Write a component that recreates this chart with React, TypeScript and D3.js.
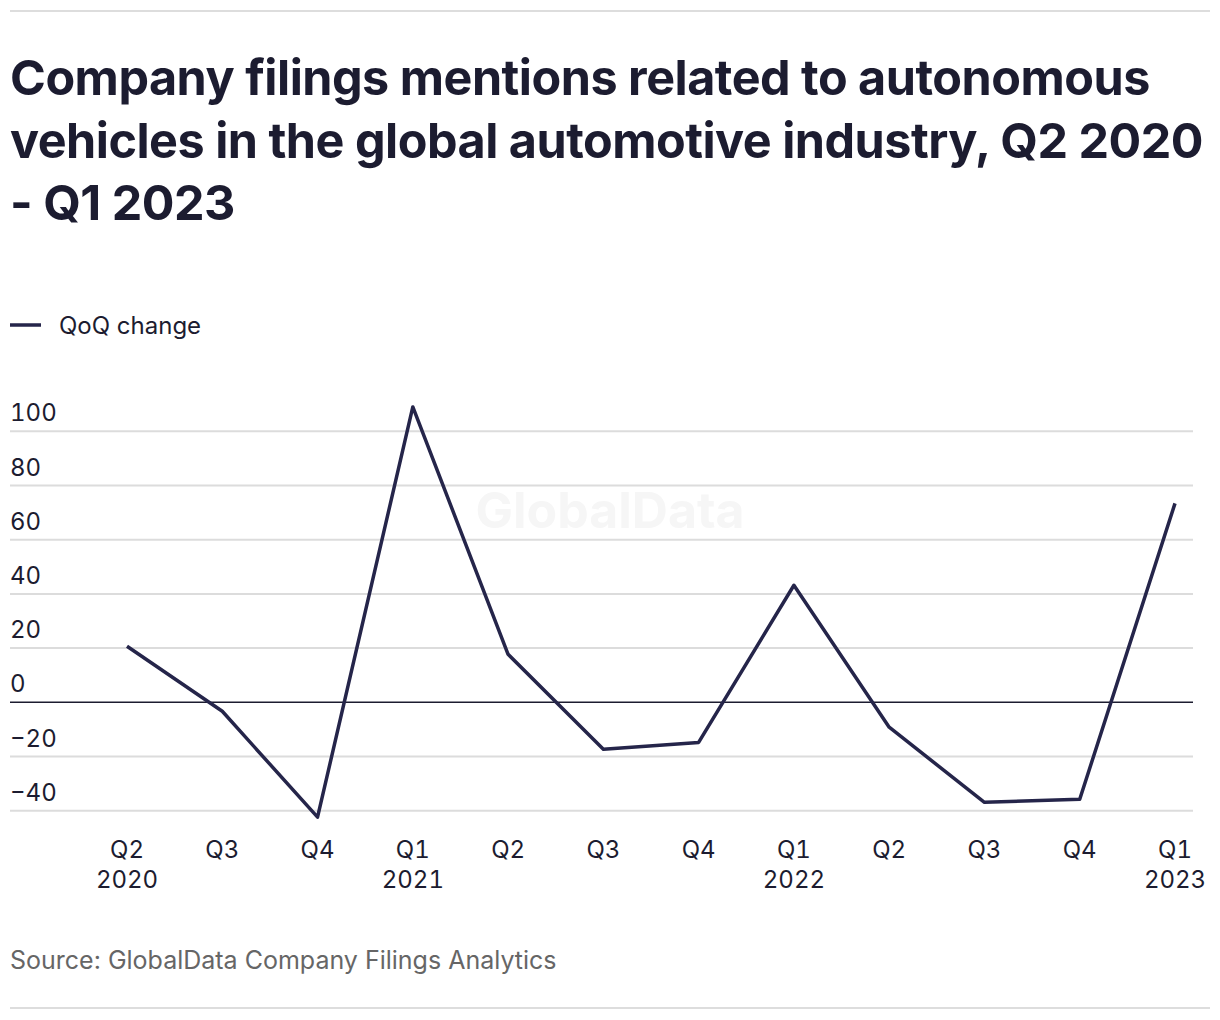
import * as d3 from "d3";
import { useEffect, useRef } from "react";

// quarters on the x axis, with the year shown under the first quarter of each year
const quarters = ["Q2 2020", "Q3 2020", "Q4 2020", "Q1 2021", "Q2 2021", "Q3 2021", "Q4 2021", "Q1 2022", "Q2 2022", "Q3 2022", "Q4 2022", "Q1 2023"];
const quarterLabels = ["Q2", "Q3", "Q4", "Q1", "Q2", "Q3", "Q4", "Q1", "Q2", "Q3", "Q4", "Q1"];
const yearLabels = ["2020", "", "", "2021", "", "", "", "2022", "", "", "", "2023"];

// QoQ change (%)
const qoqChange = [20.7, -3.3, -42.4, 109, 17.7, -17.3, -14.8, 43.2, -9.2, -36.9, -35.8, 73.4];

const yTicks = [-40, -20, 0, 20, 40, 60, 80, 100];

const titleLines = [
  "Company filings mentions related to autonomous",
  "vehicles in the global automotive industry, Q2 2020",
  "- Q1 2023",
];

const W = 1220;
const H = 1020;
const FONT = "Inter, 'Noto Sans', sans-serif";
const INK = "#1c1c30";
const LINE = "#25254a";

const App = () => {
  const ref = useRef(null);

  useEffect(() => {
    if (!ref.current) return;
    const svg = d3.select(ref.current);
    svg.selectAll("*").remove();

    const x = d3.scalePoint().domain(quarters).range([127, 1175]);
    const y = d3.scaleLinear().domain([-40, 100]).range([810.7, 431.3]);

    // top and bottom rules
    svg.append("line").attr("x1", 10).attr("x2", 1210).attr("y1", 11).attr("y2", 11)
      .attr("stroke", "#dddddd").attr("stroke-width", 2);
    svg.append("line").attr("x1", 10).attr("x2", 1210).attr("y1", 1008).attr("y2", 1008)
      .attr("stroke", "#dddddd").attr("stroke-width", 2);

    // title
    svg.append("g").selectAll("text").data(titleLines).join("text")
      .attr("x", 10)
      .attr("y", (d, i) => 95 + i * 62.5)
      .attr("font-family", FONT)
      .attr("font-weight", 700)
      .attr("font-size", 48.5)
      .attr("letter-spacing", -0.5)
      .attr("fill", INK)
      .text((d) => d);

    // legend
    svg.append("line").attr("x1", 10).attr("x2", 41).attr("y1", 325).attr("y2", 325)
      .attr("stroke", LINE).attr("stroke-width", 3.5);
    svg.append("text").attr("x", 59).attr("y", 334)
      .attr("font-family", FONT).attr("font-size", 24).attr("fill", INK)
      .text("QoQ change");

    // watermark
    svg.append("text").attr("x", 610).attr("y", 528)
      .attr("text-anchor", "middle")
      .attr("font-family", FONT).attr("font-weight", 700).attr("font-size", 50)
      .attr("fill", "#f6f6f6")
      .text("GlobalData");

    // grid
    const grid = svg.append("g");
    grid.selectAll("line").data(yTicks.filter((t) => t !== 0)).join("line")
      .attr("x1", 10).attr("x2", 1193)
      .attr("y1", (d) => y(d)).attr("y2", (d) => y(d))
      .attr("stroke", "#dcdcdc").attr("stroke-width", 2);
    grid.selectAll("text").data(yTicks).join("text")
      .attr("x", 10)
      .attr("y", (d) => y(d) - 10)
      .attr("font-family", FONT).attr("font-size", 24).attr("fill", INK)
      .style("font-variant-numeric", "tabular-nums")
      .text((d) => (d < 0 ? "\u2212" + Math.abs(d) : String(d)));
    svg.append("line").attr("x1", 10).attr("x2", 1193)
      .attr("y1", y(0)).attr("y2", y(0))
      .attr("stroke", INK).attr("stroke-width", 1.6);

    // x axis labels
    const xl = svg.append("g");
    xl.selectAll("text.q").data(quarters).join("text")
      .attr("class", "q")
      .attr("x", (d) => x(d)!)
      .attr("y", 858)
      .attr("text-anchor", "middle")
      .attr("font-family", FONT).attr("font-size", 24).attr("fill", INK)
      .style("font-variant-numeric", "tabular-nums")
      .text((d, i) => quarterLabels[i]);
    xl.selectAll("text.yr").data(quarters).join("text")
      .attr("class", "yr")
      .attr("x", (d) => x(d)!)
      .attr("y", 888)
      .attr("text-anchor", "middle")
      .attr("font-family", FONT).attr("font-size", 24).attr("fill", INK)
      .style("font-variant-numeric", "tabular-nums")
      .text((d, i) => yearLabels[i]);

    // line
    const line = d3.line<number>()
      .x((d, i) => x(quarters[i])!)
      .y((d) => y(d));
    svg.append("path")
      .attr("d", line(qoqChange))
      .attr("fill", "none")
      .attr("stroke", LINE)
      .attr("stroke-width", 3.5)
      .attr("stroke-linejoin", "round");

    // source
    svg.append("text").attr("x", 10).attr("y", 969)
      .attr("font-family", FONT).attr("font-size", 25).attr("fill", "#666666")
      .text("Source: GlobalData Company Filings Analytics");
  }, []);

  return (
    <div style={{ position: "absolute", left: 0, top: 0 }}>
      <svg ref={ref} width={W} height={H} style={{ display: "block", background: "#ffffff" }} />
    </div>
  );
};

export default App;
